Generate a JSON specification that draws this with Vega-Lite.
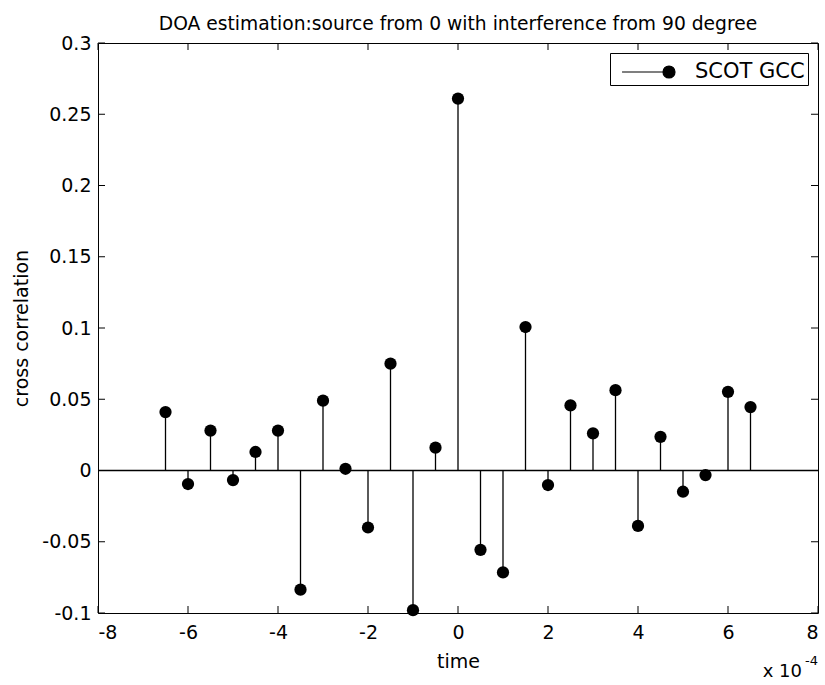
{
  "$schema": "https://vega.github.io/schema/vega-lite/v6.json",
  "width": 720,
  "height": 570,
  "autosize": "none",
  "padding": {"left": 98, "top": 43, "right": 7, "bottom": 72},
  "background": "white",
  "config": {
    "font": "DejaVu Sans",
    "view": {"stroke": "black", "strokeWidth": 1},
    "axis": {"labelColor": "black", "titleColor": "black", "domainColor": "black", "labelFont": "DejaVu Sans", "titleFont": "DejaVu Sans", "titleFontWeight": "normal", "grid": false, "ticks": false, "domain": false}
  },
  "title": {"text": "DOA estimation:source from 0 with interference from 90 degree", "fontSize": 18.7, "fontWeight": "normal", "font": "DejaVu Sans", "color": "black", "frame": "group", "offset": 0},
  "datasets": {
    "stems": [
      {"time": -6.5, "corr": 0.041},
      {"time": -6.0, "corr": -0.0095},
      {"time": -5.5, "corr": 0.028},
      {"time": -5.0, "corr": -0.0067},
      {"time": -4.5, "corr": 0.013},
      {"time": -4.0, "corr": 0.028},
      {"time": -3.5, "corr": -0.0836},
      {"time": -3.0, "corr": 0.049},
      {"time": -2.5, "corr": 0.0012},
      {"time": -2.0, "corr": -0.040},
      {"time": -1.5, "corr": 0.075},
      {"time": -1.0, "corr": -0.098},
      {"time": -0.5, "corr": 0.016},
      {"time": 0.0, "corr": 0.261},
      {"time": 0.5, "corr": -0.0557},
      {"time": 1.0, "corr": -0.0715},
      {"time": 1.5, "corr": 0.1007},
      {"time": 2.0, "corr": -0.0102},
      {"time": 2.5, "corr": 0.0457},
      {"time": 3.0, "corr": 0.0261},
      {"time": 3.5, "corr": 0.0564},
      {"time": 4.0, "corr": -0.0389},
      {"time": 4.5, "corr": 0.0236},
      {"time": 5.0, "corr": -0.0149},
      {"time": 5.5, "corr": -0.0032},
      {"time": 6.0, "corr": 0.0552},
      {"time": 6.5, "corr": 0.0445}
    ],
    "baseline": [{"from": -8, "to": 8, "level": 0}],
    "xticks": [{"v": -8}, {"v": -6}, {"v": -4}, {"v": -2}, {"v": 0}, {"v": 2}, {"v": 4}, {"v": 6}, {"v": 8}],
    "yticks": [{"v": -0.1}, {"v": -0.05}, {"v": 0}, {"v": 0.05}, {"v": 0.1}, {"v": 0.15}, {"v": 0.2}, {"v": 0.25}, {"v": 0.3}],
    "note": [{"main": "x 10", "sup": "-4"}]
  },
  "layer": [
    {
      "data": {"name": "baseline"},
      "mark": {"type": "rule", "color": "black", "strokeWidth": 1.5},
      "encoding": {
        "x": {"field": "from", "type": "quantitative", "scale": {"domain": [-8, 8], "nice": false, "zero": false},
          "axis": {"orient": "bottom", "values": [-8, -6, -4, -2, 0, 2, 4, 6, 8], "labelExpr": "'' + datum.value", "labelFontSize": 19, "labelPadding": 10, "title": "time", "titleFontSize": 19, "titlePadding": 10}},
        "x2": {"field": "to"},
        "y": {"field": "level", "type": "quantitative", "scale": {"domain": [-0.1, 0.3], "nice": false, "zero": false},
          "axis": {"orient": "left", "values": [-0.1, -0.05, 0, 0.05, 0.1, 0.15, 0.2, 0.25, 0.3], "labelExpr": "'' + datum.value", "labelFontSize": 19, "labelPadding": 7, "title": "cross correlation", "titleFontSize": 19, "titlePadding": 10}}
      }
    },
    {
      "data": {"name": "xticks"},
      "mark": {"type": "tick", "orient": "vertical", "color": "black", "opacity": 1, "size": 7, "thickness": 1, "yOffset": -3.5},
      "encoding": {
        "x": {"field": "v", "type": "quantitative"},
        "y": {"datum": -0.1}
      }
    },
    {
      "data": {"name": "xticks"},
      "mark": {"type": "tick", "orient": "vertical", "color": "black", "opacity": 1, "size": 7, "thickness": 1, "yOffset": 3.5},
      "encoding": {
        "x": {"field": "v", "type": "quantitative"},
        "y": {"datum": 0.3}
      }
    },
    {
      "data": {"name": "yticks"},
      "mark": {"type": "tick", "orient": "horizontal", "color": "black", "opacity": 1, "size": 7, "thickness": 1, "xOffset": 3.5},
      "encoding": {
        "y": {"field": "v", "type": "quantitative"},
        "x": {"datum": -8}
      }
    },
    {
      "data": {"name": "yticks"},
      "mark": {"type": "tick", "orient": "horizontal", "color": "black", "opacity": 1, "size": 7, "thickness": 1, "xOffset": -3.5},
      "encoding": {
        "y": {"field": "v", "type": "quantitative"},
        "x": {"datum": 8}
      }
    },
    {
      "data": {"name": "stems"},
      "mark": {"type": "rule", "color": "black", "strokeWidth": 1.3},
      "encoding": {
        "x": {"field": "time", "type": "quantitative"},
        "y": {"field": "corr", "type": "quantitative"},
        "y2": {"datum": 0}
      }
    },
    {
      "data": {"name": "stems"},
      "transform": [{"calculate": "'SCOT GCC'", "as": "series"}],
      "mark": {"type": "point", "filled": true, "shape": "circle", "size": 150, "opacity": 1},
      "encoding": {
        "x": {"field": "time", "type": "quantitative"},
        "y": {"field": "corr", "type": "quantitative"},
        "color": {"field": "series", "type": "nominal", "scale": {"range": ["black"]},
          "legend": {"title": null, "orient": "top-right", "offset": 10, "strokeColor": "black", "fillColor": "white", "padding": 3,
            "symbolType": "M-3.13,0L0,0M0.4,0A0.4,0.4 0 1,1 -0.4,0A0.4,0.4 0 1,1 0.4,0Z",
            "symbolSize": 900, "symbolOffset": 40, "symbolStrokeWidth": 1.2, "symbolStrokeColor": "black", "symbolFillColor": "black",
            "labelFontSize": 21, "labelColor": "black", "labelFont": "DejaVu Sans", "labelOffset": 10}}
      }
    },
    {
      "data": {"name": "note"},
      "mark": {"type": "text", "align": "right", "baseline": "alphabetic", "fontSize": 18, "font": "DejaVu Sans", "color": "black", "dx": -16, "dy": 64},
      "encoding": {
        "x": {"datum": 8},
        "y": {"datum": -0.1},
        "text": {"field": "main"}
      }
    },
    {
      "data": {"name": "note"},
      "mark": {"type": "text", "align": "right", "baseline": "alphabetic", "fontSize": 13, "font": "DejaVu Sans", "color": "black", "dx": 0, "dy": 52},
      "encoding": {
        "x": {"datum": 8},
        "y": {"datum": -0.1},
        "text": {"field": "sup"}
      }
    }
  ]
}
